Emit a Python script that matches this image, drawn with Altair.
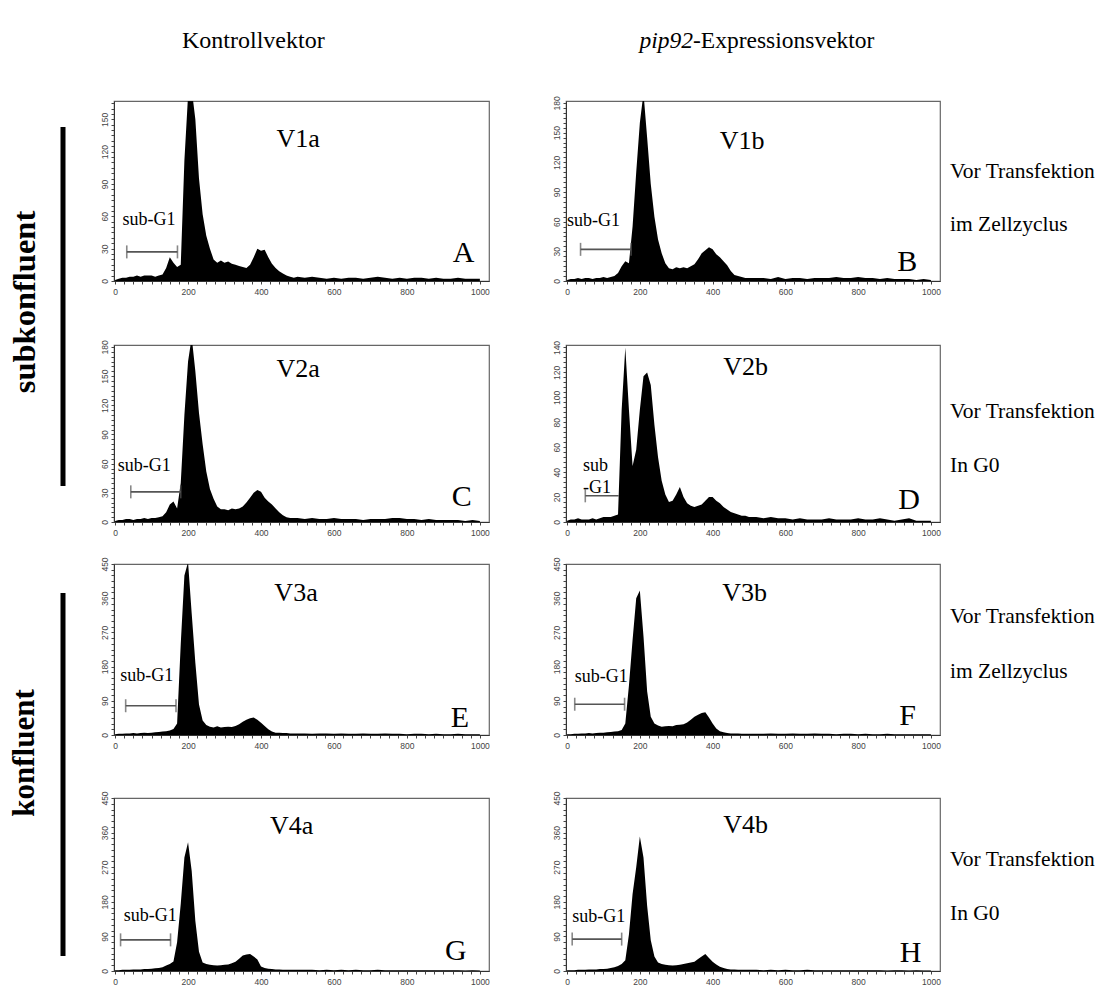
import altair as alt
import pandas as pd

# ---------------- data ----------------
# channel grid (DNA content): step 10 up to 500, step 20 from 520 to 1000
X_BINS = list(range(0, 501, 10)) + list(range(520, 1001, 20))

counts_A = [1, 2, 3, 3, 4, 4, 5, 4, 5, 5,
            5, 4, 5, 6, 12, 22, 17, 13, 15, 112,
            172, 178, 150, 95, 62, 42, 30, 20, 17, 19,
            17, 18, 16, 15, 14, 13, 12, 15, 22, 30,
            28, 29, 22, 16, 12, 9, 7, 5, 4, 3,
            4,
            3, 4, 3, 2, 3, 2, 3, 3, 2, 3, 4, 3, 2, 3, 2, 3, 3, 2, 3, 2, 2, 3, 2, 2, 2]
counts_B = [1, 2, 2, 3, 2, 3, 3, 2, 3, 3,
            4, 3, 4, 5, 8, 15, 20, 18, 55, 110,
            160, 190, 145, 98, 65, 42, 28, 18, 13, 12,
            14, 13, 14, 13, 15, 17, 22, 28, 31, 34,
            32, 27, 24, 20, 16, 10, 6, 5, 4, 3,
            3,
            3, 3, 2, 4, 2, 3, 3, 2, 3, 3, 3, 4, 3, 3, 4, 3, 3, 2, 3, 2, 2, 2, 1, 2, 1]
counts_C = [1, 2, 2, 3, 3, 2, 3, 3, 4, 3,
            4, 4, 5, 6, 10, 18, 21, 14, 40, 110,
            165, 190, 155, 112, 80, 52, 34, 24, 16, 13,
            13, 12, 14, 13, 14, 16, 20, 25, 30, 33,
            31, 25, 21, 18, 14, 10, 7, 5, 4, 4,
            4,
            3, 4, 3, 3, 4, 3, 3, 3, 2, 3, 3, 3, 4, 4, 3, 3, 2, 3, 2, 2, 2, 2, 1, 2, 1]
counts_D = [1, 2, 2, 3, 2, 2, 2, 3, 2, 3,
            4, 4, 4, 5, 6, 90, 140, 90, 45, 58,
            90, 117, 120, 110, 78, 52, 33, 22, 16, 17,
            22, 28, 20, 15, 13, 12, 13, 14, 17, 20,
            20, 17, 15, 12, 10, 8, 7, 6, 5, 5,
            4,
            4, 3, 4, 3, 3, 2, 3, 2, 2, 2, 3, 2, 2, 2, 3, 2, 2, 3, 2, 1, 2, 3, 1, 1, 1]
counts_E = [2, 3, 3, 4, 4, 5, 4, 5, 6, 5,
            6, 7, 8, 9, 10, 12, 16, 30, 240, 420,
            455, 320, 190, 80, 38, 26, 22, 20, 23, 20,
            21, 22, 21, 24, 28, 35, 40, 44, 46, 40,
            32, 24, 15, 9, 6, 6, 5, 5, 4, 4,
            4,
            4, 3, 4, 4, 3, 4, 3, 3, 4, 3, 3, 4, 3, 3, 2, 3, 3, 2, 3, 2, 2, 3, 2, 2, 2]
counts_F = [2, 2, 3, 3, 4, 4, 5, 4, 5, 6,
            6, 7, 8, 9, 10, 13, 30, 130, 250, 360,
            380, 260, 115, 48, 30, 25, 22, 23, 24, 23,
            26, 27, 28, 33, 40, 48, 53, 58, 60, 46,
            30, 17, 10, 7, 5, 4, 4, 4, 3, 3,
            3,
            3, 3, 4, 3, 3, 4, 3, 3, 4, 3, 3, 2, 3, 3, 2, 3, 2, 2, 3, 2, 2, 2, 2, 2, 2]
counts_G = [2, 2, 3, 3, 3, 4, 4, 4, 5, 5,
            6, 7, 8, 10, 14, 18, 25, 75, 175, 295,
            335, 260, 130, 50, 22, 18, 16, 15, 14, 15,
            16, 17, 20, 24, 32, 40, 43, 44, 38, 30,
            12, 8, 6, 5, 4, 4, 3, 3, 3, 3,
            3,
            3, 3, 2, 3, 2, 3, 2, 3, 2, 2, 3, 2, 2, 2, 2, 2, 2, 2, 2, 2, 2, 2, 1, 2, 1]
counts_H = [2, 2, 2, 3, 3, 3, 4, 4, 4, 5,
            5, 6, 8, 10, 13, 18, 28, 95, 200, 270,
            350, 295, 170, 80, 38, 22, 18, 16, 15, 14,
            15, 16, 18, 20, 22, 24, 31, 38, 44, 34,
            24, 17, 11, 8, 5, 4, 4, 3, 3, 3,
            3,
            3, 2, 3, 2, 3, 2, 2, 3, 2, 2, 2, 2, 2, 2, 2, 2, 2, 2, 1, 2, 2, 1, 2, 1, 1]

panel_ids = ["A", "B", "C", "D", "E", "F", "G", "H"]
sample_names = ["V1a", "V1b", "V2a", "V2b", "V3a", "V3b", "V4a", "V4b"]
y_max = [167, 182, 182, 142, 450, 450, 450, 450]
y_major = [30, 30, 30, 20, 90, 90, 90, 90]
y_minor = [5, 5, 5, 4, 15, 15, 15, 15]
all_counts = [counts_A, counts_B, counts_C, counts_D,
              counts_E, counts_F, counts_G, counts_H]

# sub-G1 gate (start, end, height) in data units
gate_start = [32, 37, 43, 50, 29, 21, 15, 14]
gate_end = [171, 176, 180, 142, 167, 158, 152, 150]
gate_level = [27, 32, 31, 21, 77, 81, 81, 83]
gate_right_cap = [True, True, True, False, True, True, True, True]
gate_text = ["sub-G1", "sub-G1", "sub-G1", "sub\n-G1", "sub-G1", "sub-G1", "sub-G1", "sub-G1"]

# annotation anchors in data units
name_pos = [(502, 132), (481, 142), (502, 157), (491, 124),
            (496, 375), (488, 374), (484, 378), (491, 380)]
letter_pos = [(955, 26), (935, 19), (950, 26), (940, 18),
              (945, 45), (936, 51), (934, 53), (944, 48)]
gate_label_pos = [(20, 48), (0, 52), (7, 48), (44, 38),
                  (14, 131), (21, 129), (24, 120), (14, 116)]

col_titles = ["Kontrollvektor", "pip92", "-Expressionsvektor"]
group_labels = ["subkonfluent", "konfluent"]
row_notes = [("Vor Transfektion", "im Zellzyclus"), ("Vor Transfektion", "In G0"),
             ("Vor Transfektion", "im Zellzyclus"), ("Vor Transfektion", "In G0")]

SERIF = "Liberation Serif"
SANS = "Liberation Sans"

# grid layout: columns = [left labels, panel a, gap, panel b, right notes]
col_w = [104, 375, 59, 374, 150]
# rows = [titles, row1, gap, row2, gap, row3, gap, row4]
row_h = [99, 180, 62, 177, 40, 171, 61, 173]
panel_rows = [1, 3, 5, 7]

one = pd.DataFrame({"k": [0]})
NOFRAME = alt.ViewBackground(stroke="transparent")


def blank(w, h):
    # an empty text placed well inside the cell, so it adds nothing to the bounds
    return alt.Chart(one).mark_text(text="", fontSize=1).encode(
        x=alt.value(10), y=alt.value(10)).properties(width=w, height=h, view=NOFRAME)


def panel(i, w, h):
    df = pd.DataFrame({"x": X_BINS, "y": all_counts[i]})
    xs = alt.Scale(domain=[-3, 1025], nice=False, zero=False)
    ys = alt.Scale(domain=[0, y_max[i]], nice=False)
    xenc = alt.X("x:Q", scale=xs, axis=alt.Axis(
        values=list(range(0, 1001, 25)), format="d",
        labelExpr="datum.value % 200 === 0 ? datum.label : ''",
        title=None, grid=False, tickSize=3, labelFontSize=8.5, labelFont=SANS,
        labelColor="#444", tickColor="#444", domainColor="#333", labelPadding=3))
    yvals = list(range(0, y_max[i] + 1, y_minor[i]))
    yenc = alt.Y("y:Q", scale=ys, axis=alt.Axis(
        values=yvals, format="d",
        labelExpr=f"datum.value % {y_major[i]} === 0 ? datum.label : ''",
        title=None, grid=False, tickSize=3, labelFontSize=8.5, labelFont=SANS,
        labelAngle=270, labelColor="#444", tickColor="#444", domainColor="#333",
        labelPadding=2))

    area = alt.Chart(df).mark_area(color="black", clip=True,
                                   interpolate="linear").encode(x=xenc, y=yenc)

    gdf = pd.DataFrame({"x": [gate_start[i]], "xe": [gate_end[i]], "y": [gate_level[i]]})
    gate = alt.Chart(gdf).mark_rule(color="#555", strokeWidth=1.6).encode(
        x=xenc, x2="xe:Q", y=yenc)
    cap_x = [gate_start[i]] + ([gate_end[i]] if gate_right_cap[i] else [])
    cdf = pd.DataFrame({"x": cap_x, "y": [gate_level[i]] * len(cap_x)})
    caps = alt.Chart(cdf).mark_tick(orient="vertical", size=13, thickness=1.6,
                                    color="#555").encode(x=xenc, y=yenc)

    ndf = pd.DataFrame({"x": [name_pos[i][0]], "y": [name_pos[i][1]], "t": [sample_names[i]]})
    name = alt.Chart(ndf).mark_text(font=SERIF, fontSize=26, color="black",
                                    align="center", baseline="middle").encode(
        x=xenc, y=yenc, text="t:N")
    ldf = pd.DataFrame({"x": [letter_pos[i][0]], "y": [letter_pos[i][1]], "t": [panel_ids[i]]})
    letter = alt.Chart(ldf).mark_text(font=SERIF, fontSize=30, color="black",
                                      align="center", baseline="middle").encode(
        x=xenc, y=yenc, text="t:N")
    sdf = pd.DataFrame({"x": [gate_label_pos[i][0]], "y": [gate_label_pos[i][1]],
                        "t": [gate_text[i]]})
    sub = alt.Chart(sdf).mark_text(font=SERIF, fontSize=18, color="black",
                                   align="left", baseline="bottom", lineBreak="\n",
                                   lineHeight=22).encode(
        x=xenc, y=yenc, text="t:N")

    return alt.layer(area, gate, caps, name, letter, sub).properties(
        width=w, height=h, view=alt.ViewBackground(stroke="#666", strokeWidth=1.2))


def txt(x, y, s, **kw):
    return alt.Chart(one).mark_text(font=SERIF, **kw).encode(
        x=alt.value(x), y=alt.value(y), text=alt.value(s))


# title cells (coordinates relative to their cell)
title_a = alt.layer(
    txt(68, 40, col_titles[0], fontSize=24, align="left", baseline="middle")
).properties(width=col_w[1], height=row_h[0], view=NOFRAME)
title_b = alt.layer(
    txt(127, 40, col_titles[1], fontSize=23.5, fontStyle="italic", align="right", baseline="middle"),
    txt(127, 40, col_titles[2], fontSize=23.5, align="left", baseline="middle"),
).properties(width=col_w[3], height=row_h[0], view=NOFRAME)

# left group labels (in the first panel row of each group; they extend downwards)
left_sub = alt.layer(
    txt(24, 201, group_labels[0], fontSize=32.5, fontWeight="bold", angle=270,
        align="center", baseline="middle"),
    alt.Chart(one).mark_rule(color="black", strokeWidth=5).encode(
        x=alt.value(62), y=alt.value(26), y2=alt.value(385)),
).properties(width=col_w[0], height=row_h[1], view=NOFRAME)
left_kon = alt.layer(
    txt(24, 189, group_labels[1], fontSize=31, fontWeight="bold", angle=270,
        align="center", baseline="middle"),
    alt.Chart(one).mark_rule(color="black", strokeWidth=5).encode(
        x=alt.value(62), y=alt.value(29), y2=alt.value(392)),
).properties(width=col_w[0], height=row_h[5], view=NOFRAME)

note_y = [(71, 124), (67, 121), (53, 108), (62, 116)]


def notes(r):
    return alt.layer(
        txt(1, note_y[r][0], row_notes[r][0], fontSize=21.5, align="left", baseline="middle"),
        txt(1, note_y[r][1], row_notes[r][1], fontSize=21.5, align="left", baseline="middle"),
    ).properties(width=col_w[4], height=row_h[panel_rows[r]], view=NOFRAME)


cells = []
for ri, h in enumerate(row_h):
    for ci, w in enumerate(col_w):
        cell = None
        if ri == 0 and ci == 1:
            cell = title_a
        elif ri == 0 and ci == 3:
            cell = title_b
        elif ri in panel_rows:
            r = panel_rows.index(ri)
            if ci == 1:
                cell = panel(2 * r, w, h)
            elif ci == 3:
                cell = panel(2 * r + 1, w, h)
            elif ci == 4:
                cell = notes(r)
            elif ci == 0 and r == 0:
                cell = left_sub
            elif ci == 0 and r == 2:
                cell = left_kon
        if cell is None:
            cell = blank(w, h)
        cells.append(cell)

chart = alt.concat(*cells, columns=len(col_w), bounds="flush",
                   spacing={"row": 1, "column": 9}).properties(
    padding=0, background="white"
).configure_view(stroke="#666")

chart.save("out.html", embed_options={"renderer": "svg", "actions": False})
